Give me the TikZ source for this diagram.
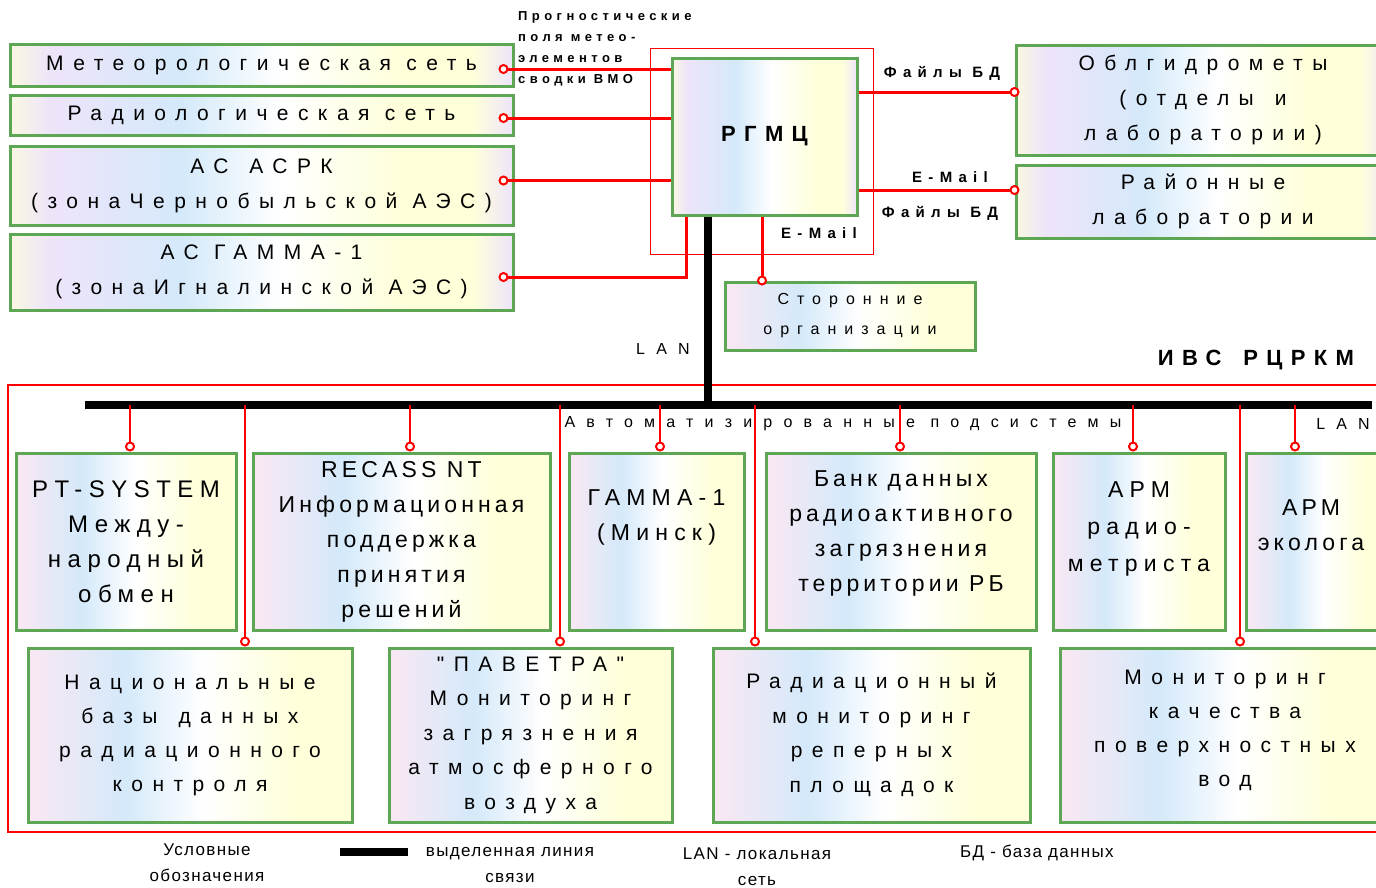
\documentclass[tikz,border=0pt]{standalone}
\usepackage{fontspec}
\setmainfont{Liberation Sans}
\newfontfamily\fwide[LetterSpace=45]{Liberation Sans}
\newfontfamily\fmid[LetterSpace=18]{Liberation Sans}
\newfontfamily\ftop[LetterSpace=27]{Liberation Sans}
\newfontfamily\flabel[LetterSpace=42]{Liberation Sans}
\newfontfamily\fcast[LetterSpace=34]{Liberation Sans}
\newfontfamily\fsmall[LetterSpace=70]{Liberation Sans}
\newfontfamily\forg[LetterSpace=50]{Liberation Sans}
\newfontfamily\fhead[LetterSpace=38]{Liberation Sans}
\newfontfamily\flegend[LetterSpace=8]{Liberation Sans}
\usepackage{tikz}
\usetikzlibrary{positioning,calc}

\definecolor{boxgreen}{RGB}{92,166,84}
\definecolor{sPink}{RGB}{250,232,243}
\definecolor{sCream}{RGB}{250,247,226}
\definecolor{sLav}{RGB}{238,228,250}
\definecolor{sBlue}{RGB}{212,233,250}
\definecolor{sYellow}{RGB}{255,255,218}
\pgfdeclarehorizontalshading{boxshadeA}{100bp}{color(0bp)=(sCream); color(25bp)=(sCream);
  color(29bp)=(sLav); color(42bp)=(sBlue); color(52bp)=(white); color(64bp)=(sYellow);
  color(71bp)=(sYellow); color(75bp)=(sLav); color(100bp)=(sLav)}
\pgfdeclarehorizontalshading{boxshadeB}{100bp}{color(0bp)=(sPink); color(25bp)=(sPink);
  color(40bp)=(sBlue); color(52bp)=(white); color(66bp)=(sYellow); color(75bp)=(sYellow);
  color(100bp)=(sYellow)}

\begin{document}
\begin{tikzpicture}[
    x=1pt, y=1pt,
    box/.style={draw=boxgreen, line width=3pt, shading=boxshadeB, inner sep=2pt,
        align=center, font=\fwide\fontsize{21}{35}\selectfont},
    boxA/.style={box, shading=boxshadeA},
    topbox/.style={box, minimum height=177pt, font=\ftop\fontsize{23}{35}\selectfont},
    midbox/.style={topbox, font=\fmid\fontsize{23}{35}\selectfont},
    lbl/.style={font=\flabel\bfseries\fontsize{15}{20}\selectfont, inner sep=0},
    smalllbl/.style={font=\fsmall\fontsize{16}{20}\selectfont, inner sep=0},
    legend/.style={font=\flegend\fontsize{17}{26}\selectfont, align=center, inner sep=0},
    link/.style={draw=red, line width=3pt},
    drop/.style={draw=red, line width=2.5pt},
    frame/.style={draw=red, line width=1.2pt},
    bus/.style={draw=black, line width=8pt},
    dot/.style={circle, draw=red, fill=white, line width=2pt, inner sep=0, minimum size=8pt}
]
\useasboundingbox (0,0) rectangle (1376,-887);

\node[boxA, minimum width=503pt, minimum height=42pt] (meteo) at (261.5,-65) {Метеорологическая сеть};
\node[boxA, minimum width=503pt, minimum height=40pt] (radio) at (261.5,-115) {Радиологическая сеть};
\node[boxA, minimum width=503pt, minimum height=79pt] (asrk) at (261.5,-185.5) {АС\quad АСРК\\(зонаЧернобыльской АЭС)};
\node[boxA, minimum width=503pt, minimum height=76pt] (gamma) at (261.5,-272) {АС ГАММА-1\\(зонаИгналинской АЭС)};

\node[boxA, minimum width=185pt, minimum height=157pt, font=\fhead\bfseries\fontsize{22}{26}\selectfont] (rgmc) at (764.5,-136.5) {РГМЦ};
\draw[frame] ([shift={(-20,8)}]rgmc.north west) rectangle ([shift={(15,-38)}]rgmc.south east);
\node[lbl, font=\fcast\bfseries\fontsize{13}{21}\selectfont, align=left, anchor=north west] (fcast) at (518,-11)
    {Прогностические\\поля метео-\\элементов\\сводки ВМО};

\node[boxA, minimum width=374pt, minimum height=110pt] (obl) at (1203,-100) {Облгидрометы\\(отделы\quad и\\лаборатории)};
\node[boxA, minimum width=374pt, minimum height=73pt] (raion) at (1203,-201.5) {Районные\\лаборатории};
\node[box, minimum width=250pt, minimum height=68pt, font=\forg\fontsize{16}{30}\selectfont] (storon) at (850,-316) {Сторонние\\организации};

\node[lbl] (fileA) at (942,-73) {Файлы БД};
\node[lbl] (mailA) at (950,-177) {E-Mail};
\node[lbl] (fileB) at (940,-213) {Файлы БД};
\node[lbl] (mailB) at (819,-233) {E-Mail};
\node[smalllbl] (lanA) at (663,-349) {LAN};
\node[font=\fhead\bfseries\fontsize{22}{26}\selectfont, inner sep=0] (ivs) at (1256,-360) {ИВС\quad РЦРКМ};

\draw[frame] (8,-385) rectangle (1390,-832);
\coordinate (busL) at (85,-405);
\coordinate (busR) at (1372,-405);
\node[smalllbl] (auto) at (843,-424) {Автоматизированные подсистемы};
\node[smalllbl] (lanB) at (1343,-424) {LAN};

\node[topbox, minimum width=220pt, font=\ftop\fontsize{24}{35}\selectfont] (pt) at (126,-541.5) {PT-SYSTEM\\Между-\\народный\\обмен};
\node[midbox, minimum width=297pt] (recass) at (401.5,-541.5) {RECASS NT\\Информационная\\поддержка\\принятия\\решений};
\node[topbox, minimum width=175pt] (gmin) at (656.5,-541.5) {ГАММА-1\\(Минск)\\[17pt]\mbox{}};
\node[midbox, minimum width=270pt] (bank) at (901,-541.5) {Банк данных\\радиоактивного\\загрязнения\\территории РБ\\[-14pt]\mbox{}};
\node[topbox, minimum width=172pt, font=\ftop\fontsize{23}{37}\selectfont] (arm1) at (1139,-541.5) {АРМ\\радио-\\метриста\\[-8pt]\mbox{}};
\node[midbox, minimum width=144pt] (arm2) at (1318,-541.5) {АРМ\hspace*{14pt}\mbox{}\\эколога\hspace*{14pt}\mbox{}\\[-3pt]\mbox{}};

\node[box, minimum width=324pt, minimum height=174pt, font=\fwide\fontsize{21}{34}\selectfont] (nat) at (190,-735) {Национальные\\базы\quad данных\\радиационного\\контроля};
\node[box, minimum width=283pt, minimum height=174pt, font=\fwide\fontsize{21}{34.5}\selectfont] (pav) at (530.5,-735) {"ПАВЕТРА"\\Мониторинг\\загрязнения\\атмосферного\\воздуха};
\node[box, minimum width=317pt, minimum height=174pt, font=\fwide\fontsize{21}{34.5}\selectfont] (rad) at (871.5,-735) {Радиационный\\мониторинг\\реперных\\площадок};
\node[box, minimum width=330pt, minimum height=174pt, font=\fwide\fontsize{21}{34}\selectfont] (mon) at (1225,-735) {Мониторинг\\качества\\поверхностных\\вод\\[-20pt]\mbox{}};

\coordinate (dMeteo) at ([xshift=-11pt,yshift=-4pt]meteo.east);
\coordinate (dRadio) at ([xshift=-11pt,yshift=-3pt]radio.east);
\coordinate (dAsrk) at ([xshift=-11pt,yshift=5pt]asrk.east);
\coordinate (dGamma) at ([xshift=-11pt,yshift=-5pt]gamma.east);
\draw[link] (dMeteo) -- (dMeteo -| rgmc.west);
\draw[link] (dRadio) -- (dRadio -| rgmc.west);
\draw[link] (dAsrk) -- (dAsrk -| rgmc.west);
\draw[link] (dGamma) -| ([xshift=16pt]rgmc.south west);
\foreach \d in {dMeteo,dRadio,dAsrk,dGamma}
    \node[dot] (o-\d) at (\d) {};

\coordinate (dObl) at ([yshift=8pt]obl.west);
\coordinate (dRaion) at ([yshift=11.5pt]raion.west);
\draw[link] (dObl -| rgmc.east) -- (dObl);
\draw[link] (dRaion -| rgmc.east) -- (dRaion);
\node[dot] (o-obl) at (dObl) {};
\node[dot] (o-raion) at (dRaion) {};

\coordinate (dStoron) at ([xshift=-2.5pt]rgmc.south |- storon.north);
\draw[link] ([xshift=-2.5pt]rgmc.south) -- (dStoron);
\node[dot] (o-storon) at (dStoron) {};

\coordinate (lanTop) at ([xshift=-56.5pt]rgmc.south);
\draw[bus] (lanTop) -- (lanTop |- busL);
\draw[bus] (busL) -- (busR);

\foreach \n/\s in {pt/4,recass/8.5,gmin/3.5,bank/-1,arm1/-6,arm2/-23} {
    \coordinate (t-\n) at ([xshift=\s pt, yshift=5pt]\n.north);
    \draw[drop] (t-\n |- busL) -- (t-\n);
    \node[dot] (o-\n) at (t-\n) {};
}
\foreach \n/\s in {nat/55,pav/29.5,rad/-116.5,mon/15} {
    \coordinate (t-\n) at ([xshift=\s pt, yshift=5pt]\n.north);
    \draw[drop] (t-\n |- busL) -- (t-\n);
    \node[dot] (o-\n) at (t-\n) {};
}

\node[legend] (lgText) at (207,-863) {Условные\\обозначения};
\coordinate (lgA) at (340,-852);
\coordinate (lgB) at (408,-852);
\draw[bus] (lgA) -- (lgB);
\node[legend] (lgLine) at (510,-865) {выделенная линия\\связи};
\node[legend] (lgLan) at (757,-867) {LAN - локальная\\сеть};
\node[legend] (lgDb) at (1037,-853) {БД - база данных};
\end{tikzpicture}
\end{document}
